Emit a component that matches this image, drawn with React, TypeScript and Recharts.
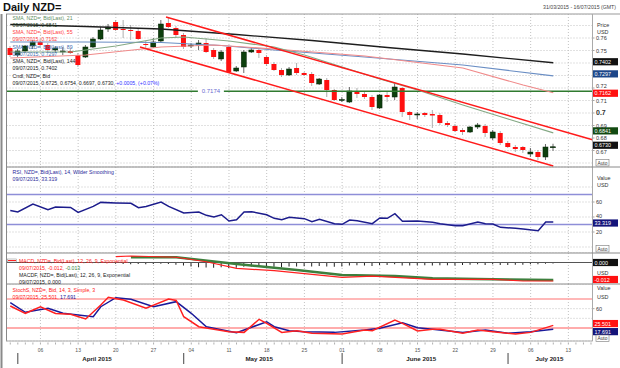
import { Bar, CartesianGrid, ComposedChart, Line, ReferenceDot, ReferenceLine, XAxis, YAxis } from 'recharts';

const FONT = '"Liberation Sans", Arial, sans-serif';

// trading days: index 0 = 31/03/2015 ... index 77 = 16/07/2015
const dayCount = 78;
const mondays = [4, 9, 14, 19, 24, 29, 34, 39, 44, 49, 54, 59, 64, 69, 74];
const mondayLabels = ['06', '13', '20', '27', '04', '11', '18', '25', '01', '08', '15', '22', '29', '06', '13'];
const monthStarts = [1, 23, 44, 66];
const monthMids = [11.5, 33, 54.5, 71.5];
const monthNames = ['April 2015', 'May 2015', 'June 2015', 'July 2015'];

// daily candles 31/03 .. 09/07
const opens = [
  0.752, 0.7464, 0.7496, 0.7536, 0.7568, 0.7544, 0.7504, 0.7488, 0.7496, 0.7464,
  0.7448, 0.7528, 0.7592, 0.7672, 0.7728, 0.7672, 0.7664, 0.7656, 0.7552, 0.7528,
  0.7576, 0.772, 0.768, 0.7624, 0.7536, 0.7544, 0.756, 0.7504, 0.7432, 0.7528,
  0.7336, 0.7368, 0.7488, 0.7504, 0.7448, 0.7392, 0.7344, 0.7304, 0.736, 0.732,
  0.7312, 0.7232, 0.7264, 0.7184, 0.71, 0.7088, 0.7176, 0.7152, 0.7128, 0.704,
  0.7144, 0.7128, 0.72, 0.7008, 0.6984, 0.7, 0.6992, 0.6984, 0.692, 0.6896,
  0.6864, 0.6848, 0.6888, 0.6896, 0.68, 0.684, 0.676, 0.6728, 0.6728, 0.6672,
  0.6688, 0.6648, 0.6725,
];
const highs = [
  0.7536, 0.7512, 0.7544, 0.7584, 0.7592, 0.756, 0.7536, 0.7528, 0.752, 0.748,
  0.7544, 0.7608, 0.7688, 0.7712, 0.7744, 0.7744, 0.7704, 0.7672, 0.7576, 0.76,
  0.7744, 0.776, 0.7696, 0.764, 0.756, 0.7584, 0.76, 0.752, 0.7504, 0.7536,
  0.7376, 0.7504, 0.7528, 0.752, 0.7464, 0.7408, 0.736, 0.7368, 0.74, 0.7328,
  0.7328, 0.728, 0.728, 0.7192, 0.7128, 0.7208, 0.72, 0.7168, 0.7144, 0.7152,
  0.7168, 0.724, 0.7208, 0.7016, 0.7008, 0.7008, 0.7024, 0.7, 0.6936, 0.6912,
  0.688, 0.6896, 0.692, 0.6912, 0.6864, 0.6856, 0.6776, 0.6744, 0.6736, 0.672,
  0.6704, 0.6752, 0.6754,
];
const lows = [
  0.7448, 0.7448, 0.748, 0.7512, 0.7528, 0.7488, 0.748, 0.7464, 0.7472, 0.7368,
  0.744, 0.752, 0.7584, 0.7648, 0.7656, 0.76, 0.7584, 0.7584, 0.752, 0.752,
  0.7568, 0.768, 0.76, 0.7512, 0.752, 0.7504, 0.748, 0.7432, 0.7416, 0.732,
  0.7328, 0.732, 0.748, 0.744, 0.7376, 0.7336, 0.7288, 0.7296, 0.7304, 0.7296,
  0.7216, 0.7224, 0.7128, 0.7096, 0.7088, 0.708, 0.712, 0.7112, 0.7024, 0.7032,
  0.7088, 0.7104, 0.6968, 0.6944, 0.6952, 0.6968, 0.688, 0.6904, 0.6888, 0.6848,
  0.6824, 0.684, 0.6872, 0.6808, 0.6784, 0.6744, 0.672, 0.6688, 0.668, 0.6648,
  0.6624, 0.6624, 0.6697,
];
const closes = [
  0.7464, 0.7496, 0.7536, 0.7568, 0.7544, 0.7504, 0.752, 0.7496, 0.748, 0.7384,
  0.7528, 0.7592, 0.7664, 0.7688, 0.7664, 0.7668, 0.766, 0.7592, 0.7544, 0.7568,
  0.7712, 0.7688, 0.7624, 0.7528, 0.7544, 0.756, 0.7488, 0.7448, 0.7488, 0.7328,
  0.736, 0.7488, 0.7504, 0.748, 0.7392, 0.7344, 0.7304, 0.7352, 0.732, 0.7304,
  0.724, 0.7272, 0.7184, 0.7104, 0.7108, 0.7176, 0.7152, 0.7128, 0.7048, 0.7144,
  0.7128, 0.7208, 0.7008, 0.6984, 0.6992, 0.6984, 0.698, 0.692, 0.6904, 0.6856,
  0.6848, 0.6888, 0.6904, 0.684, 0.6848, 0.676, 0.6728, 0.6712, 0.6704, 0.6688,
  0.6648, 0.6728, 0.673,
];

// moving averages, read at a few days
const sma21Idx = [0, 8, 14, 20, 23, 29, 35, 39, 44, 49, 54, 60, 66, 72];
const sma21Val = [0.7488, 0.7488, 0.7536, 0.76, 0.7608, 0.7576, 0.7528, 0.7464, 0.7368, 0.7272, 0.7184, 0.7064, 0.6952, 0.6841];
const sma55Idx = [0, 10, 20, 27, 35, 47, 60, 68, 72];
const sma55Val = [0.744, 0.7464, 0.7528, 0.7544, 0.7512, 0.7456, 0.736, 0.7224, 0.7162];
const sma89Idx = [0, 10, 20, 28, 35, 47, 60, 72];
const sma89Val = [0.7568, 0.7568, 0.7564, 0.754, 0.7504, 0.7448, 0.7384, 0.7297];
const sma144Idx = [0, 10, 20, 30, 40, 50, 60, 72];
const sma144Val = [0.7708, 0.7692, 0.7672, 0.7628, 0.758, 0.7524, 0.7472, 0.7402];

// drawn trend channel and level
const upperChX = [20.65, 77.2];
const upperChY = [0.7768, 0.6786];
const lowerChX = [17.2, 72];
const lowerChY = [0.7528, 0.6576];
const level = 0.7174;
const levelLabelAt = 26.6;

const priceTicks = [0.66, 0.67, 0.68, 0.69, 0.7, 0.71, 0.72, 0.73, 0.74, 0.75, 0.76, 0.77];
const priceLabels = [0.67, 0.68, 0.69, 0.7, 0.71, 0.72, 0.75, 0.76];

// RSI 14
const rsiIdx = [0, 1, 3, 5, 6, 8, 9, 11, 12, 14, 16, 17, 18, 20, 21, 23, 25, 26, 27, 28, 29, 30, 31, 32, 34, 35, 36, 37, 39, 40, 41, 43, 44, 45, 46, 48, 49, 50, 51, 52, 54, 56, 57, 59, 60, 62, 63, 64, 65, 67, 68, 70, 71, 72];
const rsiVal = [48.8, 46.7, 57.3, 49.7, 53.3, 52.8, 46.1, 54.1, 59.5, 58.7, 58.2, 52.4, 54.1, 60, 54.1, 45.3, 46.7, 42.2, 40, 43, 34.7, 36.4, 46.7, 47.1, 43, 38.2, 36.4, 39.5, 37.8, 33.8, 36.9, 31.1, 30.2, 36, 35.1, 31.1, 38.7, 38.2, 44.4, 34.2, 34.7, 32.9, 31.1, 28.4, 28.4, 33.3, 31.1, 30.7, 26.2, 24.9, 24, 21.7, 33.3, 33.319];

// MACD 12,26,9
const macdIdx = [14, 16, 22, 26, 30, 35, 44, 48, 56, 64, 68, 72];
const macdVal = [0.0038, 0.0042, 0.0034, 0.0005, -0.0038, -0.0053, -0.0096, -0.0088, -0.0109, -0.0109, -0.012, -0.012];
const signalIdx = [16, 22, 30, 38, 44, 51, 56, 64, 72];
const signalVal = [0.0034, 0.0034, -0.001, -0.0049, -0.0081, -0.0088, -0.0103, -0.0109, -0.0113];
const histStart = 14;
const histVal = [
  -0.0008, -0.001, -0.0012, -0.001, -0.0012, -0.001, -0.0008, -0.001, -0.0014,
  -0.002, -0.0026, -0.003, -0.0032, -0.0034, -0.003, -0.0036, -0.0034, -0.0028, -0.0026, -0.0028,
  -0.003, -0.0028, -0.003, -0.0026, -0.0026, -0.0024, -0.0026, -0.0022, -0.0026, -0.0028,
  -0.0026, -0.002, -0.0018, -0.002, -0.0022, -0.0016, -0.0016, -0.0012, -0.002, -0.002,
  -0.0018, -0.0018, -0.002, -0.0018, -0.0018, -0.002, -0.0016, -0.0014, -0.0012, -0.0016,
  -0.0012, -0.0016, -0.0016, -0.0014, -0.0014, -0.0012, -0.0012, -0.0008, -0.0006,
];

// slow stochastic 14,3,3
const stochKIdx = [0, 2, 4, 6, 8, 10, 12, 13, 15, 18, 21, 22, 23, 25, 29, 31, 33, 34, 36, 38, 40, 44, 47, 48, 51, 52, 54, 56, 57, 60, 62, 64, 67, 69, 72];
const stochKVal = [65.5, 50.4, 64, 50, 48.4, 38.6, 67.6, 83.5, 78, 60.8, 80, 77, 43.4, 22.7, 12.4, 11, 38, 29.7, 11, 14.4, 9, 7.6, 16, 14.4, 36.6, 29.7, 13.8, 17.3, 17.3, 9, 16, 12.4, 7.6, 11, 25.501];
const stochDIdx = [0, 2, 5, 7, 11, 12, 14, 16, 19, 22, 24, 26, 30, 31, 34, 35, 37, 39, 43, 47, 49, 52, 54, 56, 60, 63, 66, 69, 72];
const stochDVal = [72.4, 52.5, 60.8, 50.4, 43.4, 64, 82.7, 79.4, 64, 74.5, 50.4, 22.7, 10.3, 16, 33, 22.7, 14.4, 12.4, 11, 16, 19.4, 31, 20.6, 17.3, 11, 16, 9, 12.4, 17.691];

const rows: any[] = Array.from({ length: dayCount }, (_, i) => ({ i }));
opens.forEach((o, i) => {
  Object.assign(rows[i], { o, h: highs[i], l: lows[i], c: closes[i], range: [lows[i], highs[i]] });
});
const put = (key: string, idx: number[], vals: number[]) => idx.forEach((d, k) => (rows[d][key] = vals[k]));
put('sma21', sma21Idx, sma21Val);
put('sma55', sma55Idx, sma55Val);
put('sma89', sma89Idx, sma89Val);
put('sma144', sma144Idx, sma144Val);
put('rsi', rsiIdx, rsiVal);
put('macd', macdIdx, macdVal);
put('signal', signalIdx, signalVal);
histVal.forEach((v, k) => (rows[histStart + k].hist = v));
put('k', stochKIdx, stochKVal);
put('d', stochDIdx, stochDVal);

const last = (a: number[]) => a[a.length - 1];

const X_DOMAIN: [number, number] = [-0.5, 77.2];
const margin = { top: 0, right: 0, bottom: 0, left: 6.5 };
const AXIS_W = 27.5;
const STOCH_H = 57; // plot height of the last panel, the date axis sits below it
const gridProps = { stroke: '#c2c2c2', strokeDasharray: '1 2' };
const axisTicks = Array.from(new Set([...rows.map((r) => r.i), ...monthMids])).sort((a, b) => a - b);

function Candle(props: any) {
  const { x, y, width, height, payload } = props;
  if (!payload || payload.o == null) return null;
  const y0 = Math.min(y, y + height);
  const y1 = Math.max(y, y + height);
  const { o, c, h, l } = payload;
  const py = (v: number) => y0 + ((h - v) / (h - l)) * (y1 - y0);
  const up = c >= o;
  const top = py(Math.max(o, c));
  const bot = py(Math.min(o, c));
  const cx = x + width / 2;
  return (
    <g>
      <line x1={cx} x2={cx} y1={y0} y2={y1} stroke={up ? '#444' : '#999'} strokeWidth={0.8} />
      <rect
        x={x}
        y={top}
        width={width}
        height={Math.max(bot - top, 1)}
        fill={up ? '#0d3f0d' : '#ff1010'}
        stroke={up ? '#062006' : 'none'}
        strokeWidth={0.5}
      />
    </g>
  );
}

const valueBox = (text: string, bg: string, dy = 0) => (p: any) => {
  const vb = p.viewBox;
  const x = vb.x + vb.width + 0.5;
  const y = vb.y + dy;
  return (
    <g>
      <rect x={x} y={y - 3.6} width={25} height={7.2} fill={bg} />
      <text x={x + 1.5} y={y + 2} fontSize={5.4} fill="#fff" fontFamily={FONT}>
        {text}
      </text>
    </g>
  );
};

const axisTick = (shown: number[], fmt: (v: number) => string, boldValue?: number, nudge: Record<string, number> = {}) => (p: any) => {
  const v = p.payload.value;
  if (!shown.includes(v)) return null;
  const bold = v === boldValue;
  const dy = nudge[String(v)] || 0;
  return (
    <g>
      <line x1={p.x} x2={p.x + 2} y1={p.y} y2={p.y} stroke="#666" strokeWidth={0.6} />
      <text x={p.x + 3.5} y={p.y + 2 + dy} fontSize={bold ? 7 : 5.5} fontWeight={bold ? 'bold' : 'normal'} fill="#333" fontFamily={FONT}>
        {fmt(v)}
      </text>
    </g>
  );
};

function LevelLabel(p: any) {
  return (
    <g>
      <rect x={p.cx - 13} y={p.cy - 4} width={26} height={8} fill="#fff" />
      <text x={p.cx} y={p.cy + 2.2} textAnchor="middle" fontSize={6} fill="#6a6ad0" fontFamily={FONT}>
        {level.toFixed(4)}
      </text>
    </g>
  );
}

// one bottom axis: daily ticks, Monday dates, month separators and month names
function DayTick(p: any) {
  const v = p.payload.value;
  const m = mondays.indexOf(v);
  const mm = monthMids.indexOf(v);
  const isDay = Number.isInteger(v);
  const y = STOCH_H;
  return (
    <g>
      {isDay && <line x1={p.x} x2={p.x} y1={y + 1.5} y2={y + 3.5} stroke="#777" strokeWidth={0.6} />}
      {m >= 0 && (
        <text x={p.x} y={y + 10.5} textAnchor="middle" fontSize={5} fill="#555" fontFamily={FONT}>
          {mondayLabels[m]}
        </text>
      )}
      {monthStarts.includes(v) && <line x1={p.x} x2={p.x} y1={y + 12} y2={y + 23} stroke="#444" strokeWidth={1} />}
      {mm >= 0 && (
        <text x={p.x} y={y + 19.5} textAnchor="middle" fontSize={6.2} fontWeight="bold" fill="#222" fontFamily={FONT}>
          {monthNames[mm]}
        </text>
      )}
    </g>
  );
}

const hiddenX = (
  <XAxis dataKey="i" type="number" domain={X_DOMAIN} ticks={mondays} hide allowDataOverflow />
);

function Legend({ x, y, lines }: { x: number; y: number; lines: { t: string; c: string }[][] }) {
  return (
    <>
      {lines.map((parts, k) => (
        <text key={k} x={x} y={y + k * 7.25} fontSize={5.2} fontFamily={FONT}>
          {parts.map((s, j) => (
            <tspan key={j} fill={s.c}>
              {s.t}
            </tspan>
          ))}
        </text>
      ))}
    </>
  );
}

function AutoBox({ y }: { y: number }) {
  return (
    <g>
      <rect x={596} y={y - 3.5} width={13} height={6.5} fill="#fff" stroke="#777" strokeWidth={0.6} />
      <text x={597.5} y={y + 1.5} fontSize={4.8} fill="#333" fontFamily={FONT}>
        Auto
      </text>
    </g>
  );
}

export default function App() {
  const box = (top: number, h: number, child: any) => (
    <div style={{ position: 'absolute', left: 0, top, width: 620, height: h }}>{child}</div>
  );
  return (
    <div style={{ position: 'absolute', left: 0, top: 0, width: 620, height: 368, background: '#fff', overflow: 'hidden' }}>
      {box(
        14,
        153,
        <ComposedChart width={620} height={153} data={rows} margin={margin}>
          <CartesianGrid {...gridProps} />
          {hiddenX}
          <YAxis
            orientation="right"
            width={AXIS_W}
            domain={[0.6568, 0.7792]}
            ticks={priceTicks}
            allowDataOverflow
            interval={0}
            tickLine={false}
            axisLine={false}
            tickSize={0}
            tickMargin={0}
            tick={axisTick(priceLabels, (v) => (v === 0.7 ? '0.7' : v.toFixed(2)), 0.7, { '0.67': 1.5, '0.72': -1.8 })}
          />
          <ReferenceLine y={level} stroke="#2f7a2f" strokeWidth={1.6} />
          <Line dataKey="sma144" stroke="#1e1e1e" strokeWidth={1.3} dot={false} connectNulls isAnimationActive={false} />
          <Line dataKey="sma89" stroke="#6a8ec4" strokeWidth={1.1} dot={false} connectNulls isAnimationActive={false} />
          <Line dataKey="sma55" stroke="#f08a8a" strokeWidth={1.1} dot={false} connectNulls isAnimationActive={false} />
          <Line dataKey="sma21" stroke="#84a884" strokeWidth={1.1} dot={false} connectNulls isAnimationActive={false} />
          <Bar dataKey="range" barSize={5} shape={Candle} isAnimationActive={false} />
          <ReferenceLine
            segment={[{ x: upperChX[0], y: upperChY[0] }, { x: upperChX[1], y: upperChY[1] }]}
            stroke="#ff1a1a"
            strokeWidth={1.5}
          />
          <ReferenceLine
            segment={[{ x: lowerChX[0], y: lowerChY[0] }, { x: lowerChX[1], y: lowerChY[1] }]}
            stroke="#ff1a1a"
            strokeWidth={1.5}
          />
          <ReferenceDot x={levelLabelAt} y={level} shape={LevelLabel} />
          <ReferenceLine y={last(sma144Val)} stroke="none" label={valueBox(last(sma144Val).toFixed(4), '#111', -1)} />
          <ReferenceLine y={last(sma89Val)} stroke="none" label={valueBox(last(sma89Val).toFixed(4), '#1d4789', -2)} />
          <ReferenceLine y={last(sma55Val)} stroke="none" label={valueBox(last(sma55Val).toFixed(4), '#ff1010', 0.5)} />
          <ReferenceLine y={last(sma21Val)} stroke="none" label={valueBox(last(sma21Val).toFixed(4), '#124a12', -2)} />
          <ReferenceLine y={last(closes)} stroke="none" label={valueBox(last(closes).toFixed(4), '#111', -1.5)} />
        </ComposedChart>
      )}
      {box(
        167,
        86,
        <ComposedChart width={620} height={86} data={rows} margin={margin}>
          <CartesianGrid {...gridProps} />
          {hiddenX}
          <YAxis
            orientation="right"
            width={AXIS_W}
            domain={[-8, 106.67]}
            ticks={[0, 20, 40, 60, 80]}
            allowDataOverflow
            interval={0}
            tickLine={false}
            axisLine={false}
            tickSize={0}
            tickMargin={0}
            tick={axisTick([20, 40, 60], (v) => String(v), undefined, { '40': -1 })}
          />
          <ReferenceLine y={70} stroke="#8e8ed8" strokeWidth={1.5} />
          <ReferenceLine y={30} stroke="#8e8ed8" strokeWidth={1.5} />
          <Line dataKey="rsi" stroke="#1c1c8c" strokeWidth={1.5} dot={false} connectNulls isAnimationActive={false} />
          <ReferenceLine y={last(rsiVal)} stroke="none" label={valueBox(last(rsiVal).toFixed(3), '#14147a', 1)} />
        </ComposedChart>
      )}
      {box(
        253,
        31,
        <ComposedChart width={620} height={31} data={rows} margin={margin}>
          <CartesianGrid {...gridProps} horizontal={false} />
          {hiddenX}
          <YAxis orientation="right" width={AXIS_W} domain={[-0.01394, 0.00616]} tick={false} tickLine={false} axisLine={false} allowDataOverflow />
          <ReferenceLine y={0} stroke="#555" strokeWidth={1} />
          <Bar dataKey="hist" barSize={1} fill="#222" isAnimationActive={false} />
          <Line dataKey="signal" stroke="#3d7f3d" strokeWidth={2.6} dot={false} connectNulls isAnimationActive={false} />
          <Line dataKey="macd" stroke="#ff2020" strokeWidth={1.2} dot={false} connectNulls isAnimationActive={false} />
          <ReferenceLine y={0} stroke="none" label={valueBox('0.000', '#111')} />
          <ReferenceLine y={last(macdVal)} stroke="none" label={valueBox(last(macdVal).toFixed(3), '#ff1010', -1.5)} />
        </ComposedChart>
      )}
      {box(
        284,
        84,
        <ComposedChart width={620} height={84} data={rows} margin={margin}>
          <CartesianGrid {...gridProps} />
          {hiddenX}
          <XAxis
            xAxisId="days"
            dataKey="i"
            type="number"
            domain={X_DOMAIN}
            ticks={axisTicks}
            interval={0}
            height={27}
            tickLine={false}
            axisLine={false}
            tickSize={0}
            tickMargin={0}
            tick={DayTick}
            allowDataOverflow
          />
          <YAxis
            orientation="right"
            width={AXIS_W}
            domain={[-6.83, 110.97]}
            ticks={[40, 60]}
            allowDataOverflow
            interval={0}
            tickLine={false}
            axisLine={false}
            tickSize={0}
            tickMargin={0}
            tick={axisTick([60], (v) => String(v))}
          />
          <ReferenceLine y={80} stroke="#ffa0a0" strokeWidth={1.5} />
          <ReferenceLine y={20} stroke="#ff9090" strokeWidth={1.5} />
          <Line dataKey="d" stroke="#1a1a9a" strokeWidth={1.5} dot={false} connectNulls isAnimationActive={false} />
          <Line dataKey="k" stroke="#ff2020" strokeWidth={1.5} dot={false} connectNulls isAnimationActive={false} />
          <ReferenceLine y={last(stochKVal)} stroke="none" label={valueBox(last(stochKVal).toFixed(3), '#ff1010', -1.8)} />
          <ReferenceLine y={last(stochDVal)} stroke="none" label={valueBox(last(stochDVal).toFixed(3), '#14147a', 2.5)} />
        </ComposedChart>
      )}
      <svg width={620} height={368} style={{ position: 'absolute', left: 0, top: 0, pointerEvents: 'none' }}>
        <text x={3} y={11} fontSize={11} fontWeight="bold" fill="#111" fontFamily={FONT}>
          Daily NZD=
        </text>
        <text x={616} y={9} textAnchor="end" fontSize={5.2} fill="#444" fontFamily={FONT}>
          31/03/2015 - 16/07/2015 (GMT)
        </text>
        <line x1={6} x2={620} y1={14} y2={14} stroke="#999" />
        <line x1={1.5} x2={1.5} y1={14} y2={368} stroke="#8a8a8a" strokeWidth={2} />
        <line x1={6.5} x2={6.5} y1={14} y2={341} stroke="#888" />
        <line x1={592.5} x2={592.5} y1={14} y2={341} stroke="#aaa" />
        {[167, 253, 284].map((y) => (
          <line key={y} x1={6} x2={620} y1={y} y2={y} stroke="#8a8a8a" />
        ))}
        <line x1={6} x2={592.5} y1={341} y2={341} stroke="#aaa" />
        <Legend
          x={12.5}
          y={19.5}
          lines={[
            [{ t: 'SMA, NZD=, Bid(Last), 21', c: '#5f8f5f' }],
            [{ t: '09/07/2015, 0.6841', c: '#1d3a1d' }],
            [{ t: 'SMA, NZD=, Bid(Last), 55', c: '#ff3b3b' }],
            [{ t: '09/07/2015, 0.7162', c: '#ff3b3b' }],
            [{ t: 'SMA, NZD=, Bid(Last), 89', c: '#3f6fb3' }],
            [{ t: '09/07/2015, 0.7297', c: '#3f6fb3' }],
            [{ t: 'SMA, NZD=, Bid(Last), 144', c: '#222' }],
            [{ t: '09/07/2015, 0.7402', c: '#222' }],
            [{ t: 'Cndl, NZD=, Bid', c: '#222' }],
            [
              { t: '09/07/2015, 0.6725, 0.6754, 0.6697, 0.6730, ', c: '#222' },
              { t: '+0.0005, (+0.07%)', c: '#3333ff' },
            ],
          ]}
        />
        <Legend
          x={12.5}
          y={174}
          lines={[[{ t: 'RSI, NZD=, Bid(Last), 14, Wilder Smoothing', c: '#2b2b9a' }], [{ t: '09/07/2015, 33.319', c: '#2b2b9a' }]]}
        />
        <rect x={7.5} y={259} width={9} height={3} fill="#fff" stroke="#888" strokeWidth={0.5} />
        <line x1={8} x2={16} y1={260.5} y2={260.5} stroke="#ff2020" strokeWidth={1} />
        <Legend
          x={19}
          y={262.5}
          lines={[
            [{ t: 'MACD, NZD=, Bid(Last), 12, 26, 9, Exponential', c: '#ff2020' }],
            [{ t: '09/07/2015, -0.012, ', c: '#ff2020' }, { t: '-0.013', c: '#3d7f3d' }],
            [{ t: 'MACDF, NZD=, Bid(Last), 12, 26, 9, Exponential', c: '#222' }],
            [{ t: '09/07/2015, 0.000', c: '#222' }],
          ]}
        />
        <Legend
          x={12.5}
          y={291.5}
          lines={[
            [{ t: 'StochS, NZD=, Bid, 14, 3, Simple, 3', c: '#ff2020' }],
            [{ t: '09/07/2015, 25.501, ', c: '#ff2020' }, { t: '17.691', c: '#1a1a9a' }],
          ]}
        />
        <g fontSize={5.4} fill="#333" fontFamily={FONT}>
          <text x={597} y={27}>Price</text>
          <text x={597} y={34}>USD</text>
          <text x={597} y={180}>Value</text>
          <text x={597} y={187}>USD</text>
          <text x={597} y={275}>USD</text>
          <text x={597} y={289.5}>Value</text>
          <text x={597} y={298.5}>USD</text>
        </g>
        <AutoBox y={163} />
        <AutoBox y={249} />
        <AutoBox y={338.5} />
      </svg>
    </div>
  );
}
